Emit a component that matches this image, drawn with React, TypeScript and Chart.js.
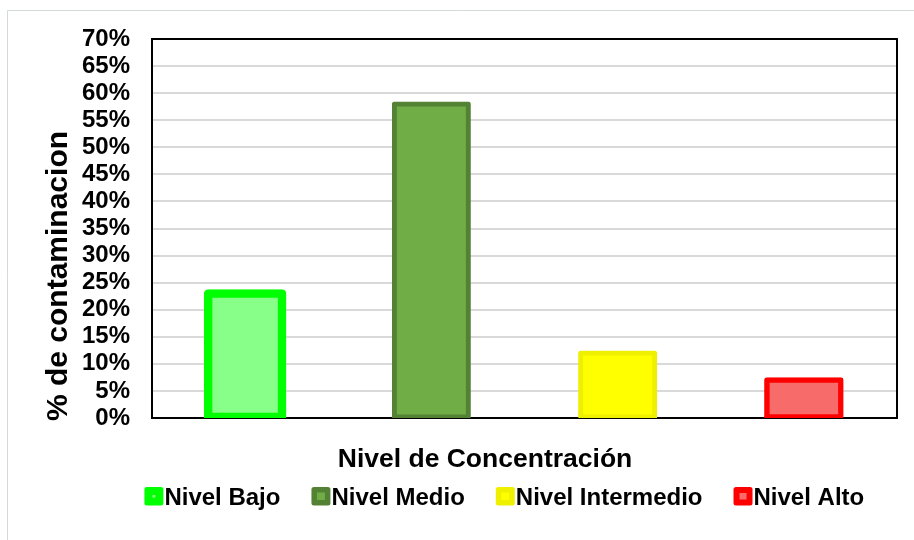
import React, { useEffect, useRef } from "react";
import { Chart, registerables } from "chart.js";

Chart.register(...registerables);

// Contamination share per concentration level (percent)
const categories = ["Nivel Bajo", "Nivel Medio", "Nivel Intermedio", "Nivel Alto"];
const contaminationPct = [23, 58, 12, 7];

// Y axis range and tick step (percent)
const yMin = 0;
const yMax = 70;
const yStep = 5;

const xTitle = "Nivel de Concentración";
const yTitle = "% de contaminacion";

// Bar styling per level
const fillColors = ["#88FF88", "#70AD47", "#FFFF00", "#F86B6B"];
const borderColors = ["#00FF00", "#548235", "#EFEF00", "#FF0000"];
const borderWidths = [8.5, 5, 5, 5.5];

const FONT = "'Liberation Sans', Arial, Helvetica, sans-serif";

const decorPlugin = {
  id: "decor",
  beforeDraw(chart: any) {
    const { ctx, width, height } = chart;
    ctx.save();
    ctx.fillStyle = "#ffffff";
    ctx.fillRect(0, 0, width, height);
    // outer chart frame
    ctx.strokeStyle = "#d2dbdb";
    ctx.lineWidth = 1;
    ctx.beginPath();
    ctx.moveTo(7.5, height);
    ctx.lineTo(7.5, 10.5);
    ctx.lineTo(width, 10.5);
    ctx.stroke();
    ctx.restore();
  },
  beforeDatasetsDraw(chart: any) {
    const { ctx, chartArea: a } = chart;
    ctx.save();
    ctx.strokeStyle = "#000000";
    ctx.lineWidth = 2;
    ctx.strokeRect(a.left, a.top, a.right - a.left, a.bottom - a.top);
    ctx.restore();
  },
  afterDraw(chart: any) {
    const { ctx } = chart;
    ctx.save();
    ctx.fillStyle = "#000000";

    // x axis title
    ctx.font = `bold 26.5px ${FONT}`;
    ctx.textAlign = "center";
    ctx.textBaseline = "alphabetic";
    ctx.fillText(xTitle, 485, 467);

    // y axis title (rotated)
    ctx.save();
    ctx.translate(67, 276);
    ctx.rotate(-Math.PI / 2);
    ctx.font = `bold 30px ${FONT}`;
    ctx.textAlign = "center";
    ctx.fillText(yTitle, 0, 0);
    ctx.restore();

    // legend row
    ctx.font = `bold 24px ${FONT}`;
    ctx.textAlign = "left";
    const boxW = 19;
    const boxH = 18.5;
    const textGap = 1;
    const itemGap = 31;
    const widths = categories.map((c) => boxW + textGap + ctx.measureText(c).width);
    const total = widths.reduce((s, w) => s + w, 0) + itemGap * (categories.length - 1);
    let x = 504.3 - total / 2;
    const boxTop = 487;
    const baseline = 504.5;
    categories.forEach((c, i) => {
      const inset = Math.min(8, borderWidths[i] + 0.5);
      ctx.fillStyle = borderColors[i];
      ctx.beginPath();
      ctx.roundRect(x, boxTop, boxW, boxH, 2.5);
      ctx.fill();
      ctx.fillStyle = fillColors[i];
      ctx.fillRect(x + inset, boxTop + inset, boxW - 2 * inset, boxH - 2 * inset);
      ctx.fillStyle = "#000000";
      ctx.fillText(c, x + boxW + textGap, baseline);
      x += widths[i] + itemGap;
    });
    ctx.restore();
  },
};

export default function App() {
  const canvasRef = useRef<HTMLCanvasElement | null>(null);

  useEffect(() => {
    const canvas = canvasRef.current;
    if (!canvas) return;
    const chart = new Chart(canvas, {
      type: "bar",
      data: {
        labels: categories,
        datasets: [
          {
            label: yTitle,
            data: contaminationPct,
            backgroundColor: fillColors,
            borderColor: borderColors,
            borderWidth: borderWidths,
            inflateAmount: borderWidths.map((w) => w / 2),
            borderRadius: borderWidths.map((w) => w / 2),
            borderSkipped: false,
            categoryPercentage: 1,
            barPercentage: 0.3973,
          } as any,
        ],
      },
      options: {
        responsive: false,
        animation: false,
        devicePixelRatio: 1,
        layout: { padding: { left: 0, top: 39, right: 17, bottom: 122 } },
        plugins: {
          legend: { display: false },
          title: { display: false },
          tooltip: { enabled: false },
        },
        scales: {
          x: {
            type: "category",
            grid: { display: false, drawTicks: false },
            border: { display: false },
            ticks: { display: false },
            afterFit: (scale: any) => {
              scale.height = 0;
            },
          },
          y: {
            min: yMin,
            max: yMax,
            grid: { color: "#d9d9d9", lineWidth: 2, drawTicks: false },
            border: { display: false },
            ticks: {
              stepSize: yStep,
              autoSkip: false,
              padding: 22,
              color: "#000000",
              font: { family: FONT, size: 24, weight: "bold", lineHeight: 1 },
              callback: (v: any) => `${v}%`,
            },
            afterFit: (scale: any) => {
              scale.width = 152;
            },
          },
        },
      },
      plugins: [decorPlugin],
    });
    return () => chart.destroy();
  }, []);

  return (
    <div
      style={{
        position: "absolute",
        left: 0,
        top: 0,
        width: 914,
        height: 540,
        overflow: "hidden",
        background: "#ffffff",
      }}
    >
      <canvas ref={canvasRef} width={914} height={540} style={{ display: "block", width: 914, height: 540 }} />
    </div>
  );
}
